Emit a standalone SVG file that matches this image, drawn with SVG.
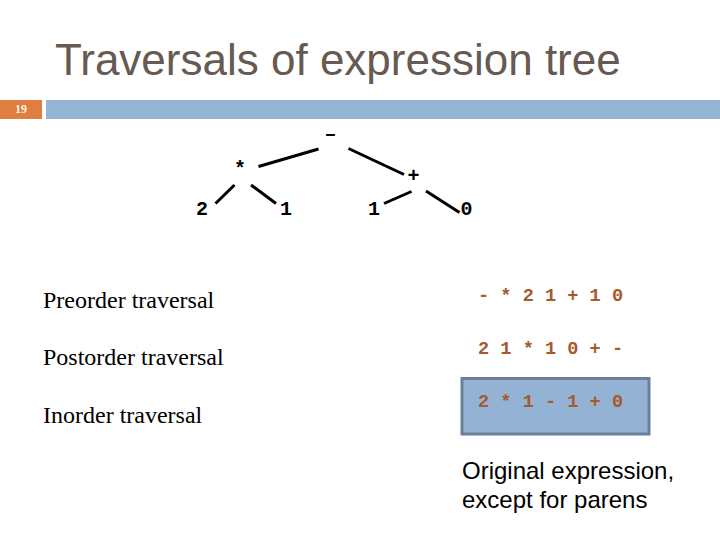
<svg xmlns="http://www.w3.org/2000/svg" width="720" height="540" viewBox="0 0 720 540">
<style>
.node{font-family:"Liberation Mono","DejaVu Sans Mono",monospace;font-weight:bold;font-size:20px;fill:#000;text-anchor:middle}
.seq{font-family:"Liberation Mono","DejaVu Sans Mono",monospace;font-weight:bold;font-size:18.6px;fill:#a65a2e}
.lbl{font-family:"Liberation Serif","Times New Roman",serif;font-size:24px;fill:#000}
.note{font-family:"Liberation Sans",Arial,sans-serif;font-size:24px;fill:#000}
.edge{stroke:#000;stroke-width:3;stroke-linecap:butt}
</style>
<rect width="720" height="540" fill="#fff"/>
<text x="55" y="75" font-family="Liberation Sans, Arial, sans-serif" font-size="44" fill="#665a52">Traversals of expression tree</text>
<rect x="0" y="100" width="42" height="19" fill="#e07d40"/>
<rect x="46" y="100" width="674" height="19" fill="#95b4d3"/>
<text x="21" y="113" font-family="Liberation Serif, serif" font-weight="bold" font-size="12" fill="#fff8e8" text-anchor="middle">19</text>
<g id="connectors">
<line class="edge" x1="258.5" y1="166.5" x2="318.5" y2="149"/>
<line class="edge" x1="348.5" y1="148.5" x2="404" y2="174.5"/>
<line class="edge" x1="234.5" y1="185" x2="215.5" y2="203.5"/>
<line class="edge" x1="251" y1="185" x2="276" y2="203.5"/>
<line class="edge" x1="411.5" y1="191.5" x2="384" y2="203.5"/>
<line class="edge" x1="426" y1="191" x2="459.5" y2="212.5"/>
</g>
<g id="n-minus"><text class="node" x="330.5" y="140">–</text></g>
<g id="n-times"><text class="node" x="240" y="175">*</text></g>
<g id="n-plus"><text class="node" x="413.5" y="182">+</text></g>
<g id="n-2"><text class="node" x="202" y="215">2</text></g>
<g id="n-1a"><text class="node" x="286" y="215">1</text></g>
<g id="n-1b"><text class="node" x="374" y="215">1</text></g>
<g id="n-0"><text class="node" x="466.5" y="215">0</text></g>
<text class="lbl" x="43" y="308">Preorder traversal</text>
<text class="lbl" x="43" y="365">Postorder traversal</text>
<text class="lbl" x="43" y="423">Inorder traversal</text>
<rect x="462" y="378.5" width="187" height="55.5" fill="#94b3d4" stroke="#6a7f99" stroke-width="3"/>
<text class="seq" x="478" y="301" xml:space="preserve">- * 2 1 + 1 0</text>
<text class="seq" x="478" y="354" xml:space="preserve">2 1 * 1 0 + -</text>
<text class="seq" x="478" y="407" xml:space="preserve">2 * 1 - 1 + 0</text>
<text class="note" x="462" y="479">Original expression,</text>
<text class="note" x="462" y="508">except for parens</text>
</svg>
